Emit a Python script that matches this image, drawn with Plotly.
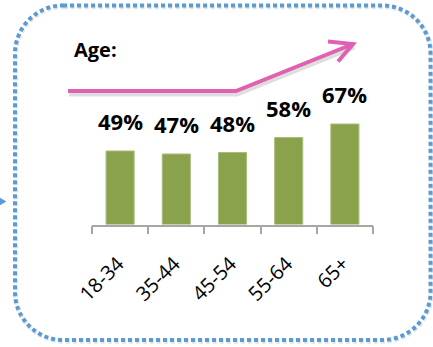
import plotly.graph_objects as go

# ---- data ----
age_groups = ["18-34", "35-44", "45-54", "55-64", "65+"]
share_pct = [49, 47, 48, 58, 67]
title_text = "Age:"

W, H = 433, 347
def px(x):
    return x / W
def py(y):
    return 1 - y / H

BAR_COLOR = "#8BA24D"
PINK = "#E060B4"
BLUE = "#5B9BD5"
AXIS_GRAY = "#A6A6A6"

fig = go.Figure()
fig.add_trace(go.Bar(
    x=age_groups, y=share_pct,
    width=0.5,
    marker=dict(color=BAR_COLOR, line=dict(color="#A9BC7C", width=1)),
    hoverinfo="skip",
))

annotations = []
for g, v in zip(age_groups, share_pct):
    annotations.append(dict(
        x=g, y=v, xref="x", yref="y", text=f"{v}%", showarrow=False,
        yanchor="bottom", xanchor="center", yshift=13,
        font=dict(family="Open Sans", size=22, color="black", weight="bold"),
    ))
annotations.append(dict(
    x=px(72), y=py(50), xref="paper", yref="paper", text=title_text,
    showarrow=False, xanchor="left", yanchor="middle",
    font=dict(family="Open Sans", size=20, color="black", weight="bold"),
))

def path_from(points, close=False):
    s = "M " + " L ".join(f"{px(x):.5f},{py(y):.5f}" for x, y in points)
    return s + (" Z" if close else "")

shapes = []
# arrow shadow
shadow_pts = [(69, 94), (237, 94), (354, 47)]
shapes.append(dict(type="path", xref="paper", yref="paper",
                   path=path_from(shadow_pts),
                   line=dict(color="rgba(0,0,0,0.13)", width=5)))
# arrow shaft
shapes.append(dict(type="path", xref="paper", yref="paper",
                   path=path_from([(68, 91), (236, 91), (353, 44)]),
                   line=dict(color=PINK, width=4)))
# arrow head (chevron)
shapes.append(dict(type="path", xref="paper", yref="paper",
                   path=path_from([(328, 41.5), (353, 44), (338, 61.5)]),
                   line=dict(color=PINK, width=4)))

# rounded dotted border (soft shadow + dots)
L, T, R, B, r = 15, 5.5, 430.5, 340, 48
k = 0.45
def border_path(dx=0.0, dy=0.0):
    def P(x, y):
        return f"{px(x + dx):.5f},{py(y + dy):.5f}"
    return (
        f"M {P(L + r, T)} L {P(R - r, T)} "
        f"C {P(R - r * k, T)} {P(R, T + r * k)} {P(R, T + r)} "
        f"L {P(R, B - r)} "
        f"C {P(R, B - r * k)} {P(R - r * k, B)} {P(R - r, B)} "
        f"L {P(L + r, B)} "
        f"C {P(L + r * k, B)} {P(L, B - r * k)} {P(L, B - r)} "
        f"L {P(L, T + r)} "
        f"C {P(L, T + r * k)} {P(L + r * k, T)} {P(L + r, T)} Z"
    )
shapes.append(dict(type="path", xref="paper", yref="paper", path=border_path(0.8, 1.2),
                   line=dict(color="rgba(0,0,0,0.10)", width=5, dash="4px,3px")))
shapes.append(dict(type="path", xref="paper", yref="paper", path=border_path(),
                   line=dict(color=BLUE, width=4, dash="4px,3px")))
# small connector arrow tip at left edge
shapes.append(dict(type="path", xref="paper", yref="paper",
                   path=path_from([(0, 198), (6, 201.5), (0, 205)], close=True),
                   fillcolor=BLUE, line=dict(color=BLUE, width=0.5)))

fig.update_layout(
    width=W, height=H,
    margin=dict(l=0, r=0, t=0, b=0, pad=0, autoexpand=False),
    paper_bgcolor="white", plot_bgcolor="white",
    showlegend=False,
    annotations=annotations,
    shapes=shapes,
    xaxis=dict(
        type="category", range=[-0.5, 4.5],
        domain=[px(92), px(373)],
        automargin=False,
        showline=True, linecolor=AXIS_GRAY, linewidth=1.5,
        ticks="outside", ticklen=8, tickwidth=1.5, tickcolor=AXIS_GRAY,
        tickson="boundaries",
        tickangle=-45,
        ticklabelstandoff=18,
        ticklabelshift=-2,
        tickfont=dict(family="Open Sans", size=20, color="black"),
        showgrid=False, zeroline=False, fixedrange=True,
    ),
    yaxis=dict(
        range=[0, 100],
        domain=[py(224.5), py(74.5)],
        automargin=False,
        visible=False, fixedrange=True,
    ),
)

fig.write_html("out.html")
